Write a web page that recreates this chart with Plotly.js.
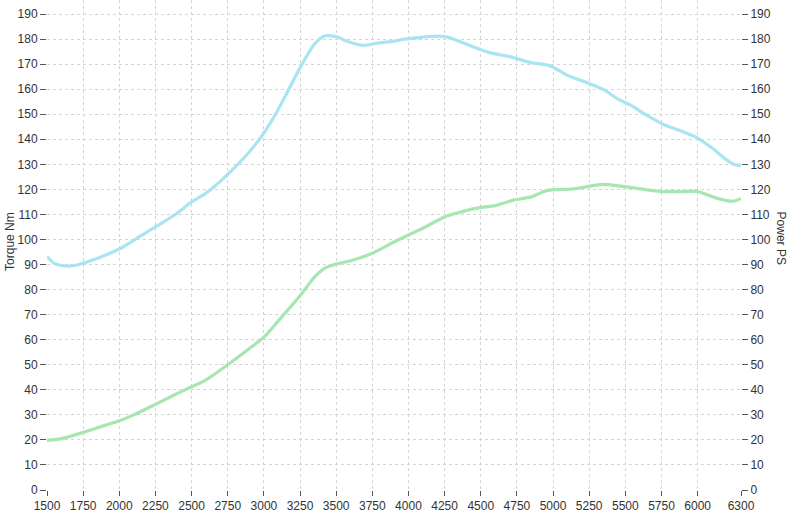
<!DOCTYPE html>
<html>
<head>
<meta charset="utf-8">
<script src="https://cdn.plot.ly/plotly-3.0.1.min.js"></script>
<style>html,body{margin:0;padding:0;background:#fff;}#chart{width:792px;height:517px;}</style>
</head>
<body>
<div id="chart"></div>
<script>
const torqueRpm = [1500,1550,1600,1650,1700,1750,1850,2000,2150,2250,2400,2500,2600,2750,2900,3000,3100,3250,3350,3420,3500,3580,3680,3800,3900,4000,4100,4200,4270,4400,4560,4700,4840,4980,5100,5250,5350,5450,5530,5650,5760,5880,6000,6100,6200,6260,6300];
const torqueNm  = [93.2,90.5,89.6,89.4,89.7,90.5,92.5,96.2,101.5,105,110.5,115,118.5,126,135,142.5,152,168.5,178,181.2,181,179,177.5,178.5,179.2,180.2,180.8,181.2,180.8,178,174.6,173,170.7,169.3,165.5,162.3,159.8,156,153.8,149.5,146,143.4,140.5,136.5,131.8,129.8,129.6];
const powerRpm  = [1500,1600,1750,1900,2000,2100,2250,2400,2500,2600,2750,2900,3000,3100,3250,3350,3420,3500,3600,3750,3900,4000,4100,4250,4350,4500,4600,4725,4850,4955,5140,5345,5530,5740,5900,5995,6105,6200,6245,6300];
const powerPS   = [19.8,20.5,23,25.8,27.6,30,34.2,38.5,41.2,44,50,56.5,61,67.5,77.5,85,88.5,90.2,91.5,94.5,99,101.8,104.5,109,110.8,112.8,113.5,115.7,117,119.5,120.2,122,120.8,119.2,119.1,119.2,117,115.5,115.3,116.3];
const xTicks = [1500,1750,2000,2250,2500,2750,3000,3250,3500,3750,4000,4250,4500,4750,5000,5250,5500,5750,6000,6300];

const tickFont = {family:'Liberation Sans, Arial, sans-serif', size:12, color:'#333'};
const data = [
  {x: torqueRpm, y: torqueNm, type:'scatter', mode:'lines', line:{color:'#a8e4f2', width:3.2, shape:'spline', smoothing:0.8}, yaxis:'y', hoverinfo:'skip'},
  {x: powerRpm, y: powerPS, type:'scatter', mode:'lines', line:{color:'#a6e6b0', width:3.2, shape:'spline', smoothing:0.8}, yaxis:'y2', hoverinfo:'skip'}
];
const layout = {
  width:792, height:517,
  margin:{l:47, r:51, t:0, b:27},
  paper_bgcolor:'#fff', plot_bgcolor:'#fff',
  showlegend:false,
  xaxis:{range:[1500,6300], tickvals:xTicks, ticktext:xTicks.map(String), ticks:'outside', ticklen:5, tickcolor:'#555', showgrid:true, gridcolor:'#d4d4d4', griddash:'dot', zeroline:false, showline:false, tickfont:tickFont},
  yaxis:{range:[0,195.6], dtick:10, tick0:0, ticks:'outside', ticklen:6, tickcolor:'#555', showgrid:true, gridcolor:'#d4d4d4', griddash:'dot', zeroline:false, showline:false, tickfont:tickFont},
  yaxis2:{range:[0,195.6], dtick:10, tick0:0, overlaying:'y', side:'right', ticks:'outside', ticklen:6, tickcolor:'#555', showgrid:false, zeroline:false, showline:false, tickfont:tickFont},
  annotations:[
    {text:'Torque Nm', xref:'paper', yref:'paper', x:-0.0535, y:0.508, xanchor:'center', yanchor:'middle', textangle:-90, showarrow:false, font:{family:'Liberation Sans, Arial, sans-serif', size:12, color:'#333'}},
    {text:'Power PS', xref:'paper', yref:'paper', x:1.057, y:0.514, xanchor:'center', yanchor:'middle', textangle:90, showarrow:false, font:{family:'Liberation Sans, Arial, sans-serif', size:12, color:'#333'}}
  ]
};
Plotly.newPlot('chart', data, layout, {staticPlot:true, displayModeBar:false});
</script>
</body>
</html>
